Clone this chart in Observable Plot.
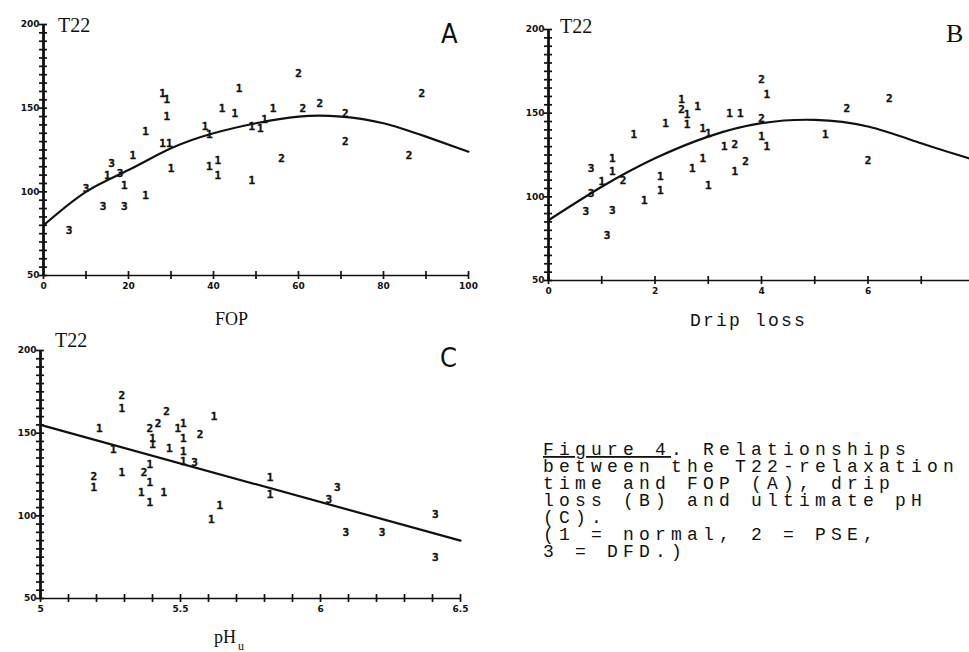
<!DOCTYPE html>
<html><head><meta charset="utf-8">
<script src="https://cdn.jsdelivr.net/npm/d3@7"></script>
<script src="https://cdn.jsdelivr.net/npm/@observablehq/plot@0.6"></script>
<style>
html,body{margin:0;padding:0;background:#fff;overflow:hidden;width:969px;height:652px}
#root{position:relative;width:969px;height:652px;overflow:hidden;background:#fff}
.panel{position:absolute}
#overlay{position:absolute;left:0;top:0}
</style></head><body><div id="root"></div>
<script>
// ---------- Panel A: T22 vs FOP ----------
const aFOP = [6,10,14,15,16,18,19,19,21,24,24,28,29,29,28,29.6,30,38,39,39,41,41,42,45,46,49,49,51,52,54,56,60,61,65,71,71,86,89];
const aT22 = [77,102,91,110,117,111,104,91,122,98,136,159,155,145,129,129,114,139,134,115,119,110,150,147,162,107,139,138,143,150,120,171,150,153,147,130,122,159];
const aGroup = [3,3,3,1,3,3,1,3,1,1,1,1,1,1,1,1,1,1,1,1,1,1,1,1,1,1,1,1,1,1,2,2,2,2,2,2,2,2];
const aCurveX = [0,10,20,30,40,50,60,70,80,90,100];
const aCurveY = [80,100,113,126,135,141,145,145,141,133,124];
const aXTicks = [0,20,40,60,80,100];

// ---------- Panel B: T22 vs drip loss ----------
const bDrip = [0.8,0.8,0.7,1.0,1.2,1.2,1.2,1.1,1.4,1.6,1.8,2.1,2.1,2.2,2.5,2.5,2.6,2.6,2.8,2.7,2.9,2.9,3.0,3.0,3.3,3.4,3.6,3.5,3.7,3.5,4.0,4.1,4.0,4.0,4.1,5.2,5.6,6.0,6.4];
const bT22 = [117,102,91,109,123,115,92,77,110,137,98,104,112,144,158,152,149,143,154,117,123,141,138,107,130,150,150,131,121,115,170,161,147,136,130,137,153,122,159];
const bGroup = [3,3,3,1,1,1,3,3,2,1,1,1,1,1,1,2,1,1,1,1,1,1,1,1,1,1,1,2,2,1,2,1,2,1,1,1,2,2,2];
const bCurveX = [0,1,2,3,4,5,6,7,8];
const bCurveY = [86,106,123,136,144,146,142,132,122];
const bXTicks = [0,2,4,6];

// ---------- Panel C: T22 vs ultimate pH ----------
const cPH = [5.21,5.26,5.29,5.29,5.29,5.19,5.19,5.37,5.39,5.39,5.36,5.39,5.39,5.40,5.40,5.42,5.45,5.46,5.44,5.49,5.51,5.51,5.51,5.51,5.55,5.57,5.62,5.61,5.64,5.82,5.82,6.06,6.03,6.09,6.22,6.41,6.41];
const cT22 = [153,140,173,165,126,124,117,126,131,120,114,108,153,147,143,156,163,141,114,153,156,147,139,133,132,149,160,98,106,123,113,117,110,90,90,101,75];
const cGroup = [1,1,2,1,1,2,1,2,1,1,1,1,2,1,1,2,2,1,1,1,1,1,1,1,3,2,1,1,1,1,1,3,3,3,3,3,3];
const cLineX = [5,6.5];
const cLineY = [155,85];
const cXTicks = [5,5.5,6,6.5];

const yLabelTicks = [50,100,150,200];
const yMinorTicks = d3.range(50,201,5);

const INK = "#111";

function panel({xs, ys, gs, cx, cy, xDomain, xMinor, xLabels, xFormat, width, height, margin}) {
  const pts = xs.map((x,i)=>({x, y: ys[i], g: String(gs[i])}));
  const curve = cx.map((x,i)=>({x, y: cy[i]}));
  return Plot.plot({
    width, height,
    marginLeft: margin[0], marginRight: margin[1], marginTop: margin[2], marginBottom: margin[3],
    x: {domain: xDomain},
    y: {domain: [50,200]},
    style: {background: "transparent", color: INK, overflow: "visible"},
    marks: [
      Plot.axisY({ticks: yMinorTicks, tickSize: 8, dx: 4, fill: "none", label: null, strokeWidth: 1.7, stroke: INK}),
      Plot.axisY({ticks: yLabelTicks, tickSize: 0, tickPadding: 4, fontSize: 9, fontWeight: "bold", fontFamily: "DejaVu Sans", label: null, fill: INK}),
      Plot.axisX({ticks: xMinor, tickSize: 8, dy: -4, fill: "none", label: null, strokeWidth: 1.7, stroke: INK}),
      Plot.axisX({ticks: xLabels, tickSize: 0, tickPadding: 7, tickFormat: xFormat, fontSize: 9, fontWeight: "bold", fontFamily: "DejaVu Sans", label: null, fill: INK}),
      Plot.ruleX([xDomain[0]], {stroke: INK, strokeWidth: 2.8}),
      Plot.ruleY([50], {stroke: INK, strokeWidth: 1.7}),
      Plot.line(curve, {x: "x", y: "y", curve: "natural", stroke: INK, strokeWidth: 2.2}),
      Plot.text(pts, {x: "x", y: "y", text: "g", fontSize: 11, fontWeight: 900, fontFamily: "DejaVu Sans Mono", fill: INK, stroke: INK, strokeWidth: 0.4})
    ]
  });
}

const root = document.getElementById("root");
function place(node, left, top) {
  node.classList.add("panel");
  node.style.left = left + "px";
  node.style.top = top + "px";
  root.appendChild(node);
}

place(panel({
  xs: aFOP, ys: aT22, gs: aGroup, cx: aCurveX, cy: aCurveY,
  xDomain: [0,100], xMinor: d3.range(0,101,10), xLabels: aXTicks, xFormat: d => String(d),
  width: 480, height: 300, margin: [43, 12, 24, 25]
}), 0, 0);

place(panel({
  xs: bDrip, ys: bT22, gs: bGroup, cx: bCurveX, cy: bCurveY,
  xDomain: [0,8], xMinor: d3.range(0,9,1), xLabels: bXTicks, xFormat: d => String(d),
  width: 500, height: 310, margin: [58, 16, 29, 30]
}), 490, 0);

place(panel({
  xs: cPH, ys: cT22, gs: cGroup, cx: cLineX, cy: cLineY,
  xDomain: [5,6.5], xMinor: d3.range(50,66,1).map(d => d/10), xLabels: cXTicks, xFormat: d => String(d),
  width: 480, height: 300, margin: [40, 20, 30, 22]
}), 0, 320);

// ---------- Labels and caption ----------
const ov = d3.select(root).append("svg").attr("id","overlay").attr("width",969).attr("height",652);
const serif = "Liberation Serif, DejaVu Serif, serif";
const sans = "DejaVu Sans Condensed, Liberation Sans, sans-serif";
const mono = "Liberation Mono, DejaVu Sans Mono, monospace";
function label(x, y, t, font, size, extra = {}) {
  const el = ov.append("text").attr("x", x).attr("y", y).attr("fill", INK)
    .attr("font-family", font).attr("font-size", size).text(t);
  for (const k in extra) el.attr(k, extra[k]);
  return el;
}
label(58, 32, "T22", serif, 20);
label(441, 43, "A", sans, 27, {"font-stretch": "condensed"});
label(215, 325, "FOP", serif, 18);

label(560, 33, "T22", serif, 20);
label(946, 42, "B", serif, 26);
label(690, 326, "Drip loss", mono, 18, {"letter-spacing": "2.2"});

label(55, 347, "T22", serif, 20);
label(440, 367, "C", sans, 27, {"font-stretch": "condensed"});
const ph = label(214, 643, "pH", serif, 18);
ph.append("tspan").attr("dx", 2).attr("dy", 7).attr("font-size", 12).text("u");

const capLines = [
  null,
  "between the T22-relaxation",
  "time and FOP (A), drip",
  "loss (B) and ultimate pH",
  "(C).",
  "(1 = normal, 2 = PSE,",
  "3 = DFD.)"
];
capLines.forEach((t, i) => {
  const el = ov.append("text").attr("x", 543).attr("y", 455 + i * 17).attr("fill", INK)
    .attr("font-family", mono).attr("font-size", 18).attr("letter-spacing", 5.2);
  if (i === 0) {
    el.append("tspan").attr("text-decoration", "underline").text("Figure 4");
    el.append("tspan").text(". Relationships");
  } else {
    el.text(t);
  }
});
</script></body></html>
